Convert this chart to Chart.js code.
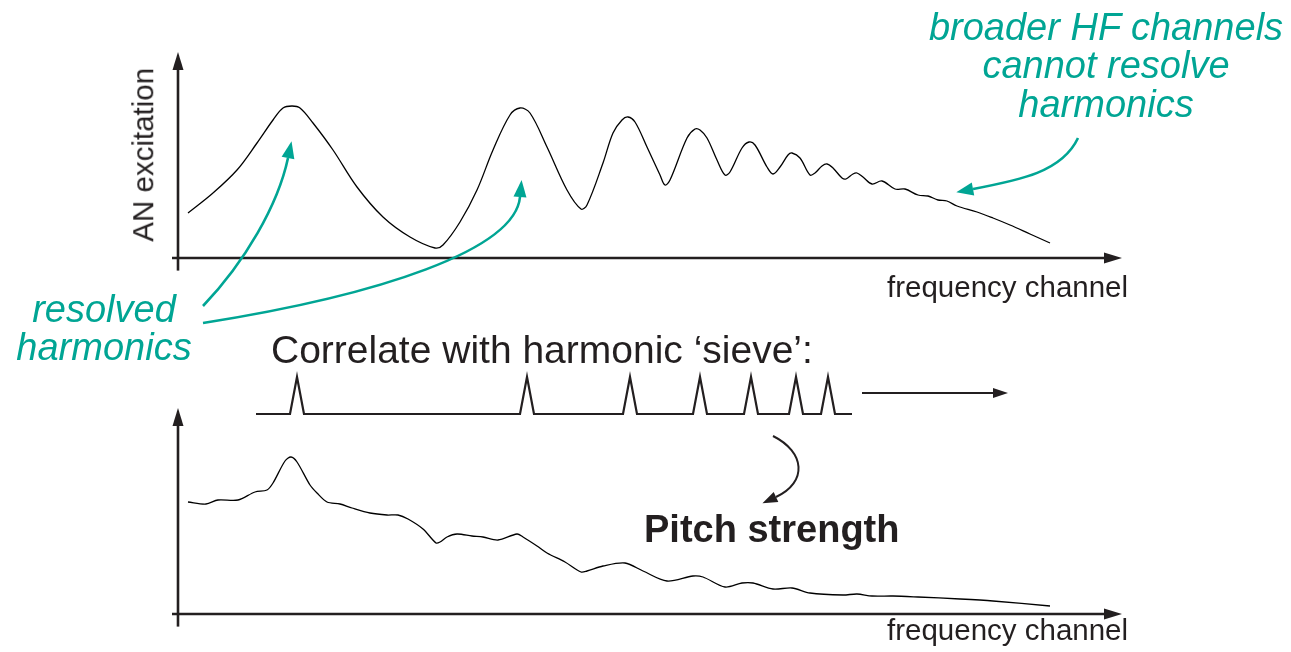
<!DOCTYPE html>
<html><head><meta charset="utf-8">
<script src="https://cdn.jsdelivr.net/npm/chart.js@4.4.1/dist/chart.umd.min.js"></script>
<style>
html,body{margin:0;padding:0;background:#fff;width:1291px;height:652px;overflow:hidden;position:relative;font-family:"Liberation Sans",Arial,Helvetica,sans-serif;color:#231f20}
#c{position:absolute;left:0;top:0}
.t{position:absolute;white-space:nowrap;line-height:1}
.teal{color:#00a594;font-style:italic;text-align:center;font-size:38px}
</style></head><body>
<canvas id="c" width="1291" height="652"></canvas>
<div class="t" style="left:42.8px;top:139.75px;width:200px;height:29.5px;font-size:29.5px;text-align:center;transform:rotate(-90deg)">AN excitation</div>
<div class="t" style="left:887px;top:272px;font-size:29.5px">frequency channel</div>
<div class="t" style="left:887px;top:615px;font-size:29.5px">frequency channel</div>
<div class="t" style="left:271px;top:330px;font-size:39px">Correlate with harmonic ‘sieve’:</div>
<div class="t" style="left:644px;top:510px;font-size:38px;font-weight:bold">Pitch strength</div>
<div class="t teal" style="left:906px;top:7.6px;width:400px;line-height:38.5px">broader HF channels<br>cannot resolve<br>harmonics</div>
<div class="t teal" style="left:-46px;top:291px;width:300px;line-height:37.5px">resolved<br>harmonics</div>
<script>
// frequency channel (x) and AN excitation (y) of the upper panel
const topX = [5,17.5,29.5,39.5,47.5,52.5,57,61,67.5,77.5,89.5,102.5,116,128.5,132.5,141,149.5,157.5,166,171,176,184.5,194.5,201.5,204.5,212.5,217.5,222,225,228.5,234.5,241,243.5,246,254.5,258.5,261,264.5,269.5,273.5,276,282,285.5,288.5,294.5,297.5,301,305,307,311,316,318.5,322,324.5,327.5,332,334,337.5,339.5,342.5,347,352,358.5,363.5,370,375,380,384.5,389.5,399.5,407.5,416,426,436];
const topY = [22.5,32.5,44,57.5,69,75,76,75,67.5,54,35.5,20.5,10.5,5,6.5,18,34,54,71.5,75,72.5,55.5,34,24.5,26.5,47.5,62.5,69,70.5,68,55.5,41.5,36.5,39,60,64.5,64,60,49,41.5,43,55,58,56.5,45.5,42,45.5,51.5,52.5,50,41.5,42.5,46,47,45,40,39.5,42,42.5,40.5,37,38.5,34.5,34.5,31.5,31,29,28.5,26,23,20,16.5,12,7.5];
// frequency channel (x) and pitch strength (y) of the lower panel
const botX = [5,14,20,30,38.5,44.5,47.5,53.5,56.5,59.5,66,69.5,74.5,81,87,96,104.5,110,115,122.5,129,131,134.5,139.5,147,152.5,160,169.5,172.5,179.5,184.5,193.5,201.5,204.5,212.5,223.5,232.5,244.5,257.5,262.5,273.5,282,287.5,297.5,307,316,332.5,339.5,347,357.5,370,391,407.5,436];
const botY = [56,55,57,57,61,62,65.5,76.5,78.5,76,64.5,60.5,56,55,53,50.5,49.5,49.5,47.5,42.5,35.5,36,38.5,40,39,38.5,37,40,38.5,34,30.5,26,21,21.5,24,25.5,21.5,16.5,19,18.5,13.5,15.5,15.5,12.5,13,10.5,9.5,10,9,9,8.5,7.5,6.5,4];
// harmonic sieve: channels of the teeth, extent of the sieve, half-width of a tooth
const sievePeaks = [59.5,174.5,226,261,286.5,309,325];
const sieveRange = [39,337];
const toothHalf = 3.5;

const pts = (xs, ys) => xs.map((x, i) => ({x: x, y: ys[i]}));
const sievePts = [{x: sieveRange[0], y: 0}];
sievePeaks.forEach(p => { sievePts.push({x: p - toothHalf, y: 0}, {x: p, y: 1}, {x: p + toothHalf, y: 0}); });
sievePts.push({x: sieveRange[1], y: 0});

const INK = '#231f20', TEAL = '#00a594';

function head(c, x, y, dx, dy, len, hw, color) {
  const L = Math.hypot(dx, dy), ux = dx / L, uy = dy / L;
  c.beginPath();
  c.moveTo(x, y);
  c.lineTo(x - ux * len - uy * hw, y - uy * len + ux * hw);
  c.lineTo(x - ux * len + uy * hw, y - uy * len - ux * hw);
  c.closePath();
  c.fillStyle = color; c.fill();
}
function curveArrow(c, p, color, lw, len, hw) {
  c.beginPath();
  c.moveTo(p[0], p[1]);
  c.bezierCurveTo(p[2], p[3], p[4], p[5], p[6], p[7]);
  c.strokeStyle = color; c.lineWidth = lw; c.lineCap = 'butt'; c.stroke();
  const dx = p[6] - p[4], dy = p[7] - p[5], L = Math.hypot(dx, dy);
  head(c, p[6] + dx / L * len, p[7] + dy / L * len, dx, dy, len, hw, color);
}
function axes(c, xs, ys, yMax) {
  const x0 = xs.getPixelForValue(0), xL = xs.getPixelForValue(-3), xR = xs.getPixelForValue(472);
  const y0 = ys.getPixelForValue(0), yT = ys.getPixelForValue(yMax), yB = ys.getPixelForValue(-6.3);
  c.strokeStyle = INK; c.lineWidth = 2.6; c.lineCap = 'butt';
  c.beginPath(); c.moveTo(xL, y0); c.lineTo(xR - 16, y0); c.stroke();
  head(c, xR, y0, 1, 0, 18, 5.5, INK);
  c.beginPath(); c.moveTo(x0, yB); c.lineTo(x0, yT + 16); c.stroke();
  head(c, x0, yT, 0, -1, 18, 5.5, INK);
}
const decor = {
  id: 'decor',
  afterDraw(chart) {
    const c = chart.ctx, s = chart.scales;
    c.save();
    axes(c, s.x, s.yTop, 103);
    axes(c, s.x, s.yBot, 103);
    // sieve sliding arrow
    const ya = s.ySieve.getPixelForValue(0.57);
    const xa = s.x.getPixelForValue(342), xb = s.x.getPixelForValue(415);
    c.strokeStyle = INK; c.lineWidth = 2;
    c.beginPath(); c.moveTo(xa, ya); c.lineTo(xb - 12, ya); c.stroke();
    head(c, xb, ya, 1, 0, 15, 5, INK);
    // annotation arrows
    curveArrow(c, [203,306, 245,262, 278,205, 288,158], TEAL, 2.6, 17, 6.5);
    curveArrow(c, [203,323, 380,295, 515,250, 520,197], TEAL, 2.6, 17, 6.5);
    curveArrow(c, [1078,138, 1062,172, 1020,180, 973,189], TEAL, 2.6, 17, 6.5);
    curveArrow(c, [773,436, 805,452, 808,482, 776,497], INK, 2, 15, 5.5);
    c.restore();
  }
};

new Chart(document.getElementById('c'), {
  type: 'line',
  data: {datasets: [
    {data: pts(topX, topY), yAxisID: 'yTop', borderColor: '#000', borderWidth: 1.3, pointRadius: 0, tension: 0.35, fill: false},
    {data: pts(botX, botY), yAxisID: 'yBot', borderColor: '#000', borderWidth: 1.3, pointRadius: 0, tension: 0.3, fill: false},
    {data: sievePts, yAxisID: 'ySieve', borderColor: INK, borderWidth: 2.2, pointRadius: 0, tension: 0, borderJoinStyle: 'miter', fill: false}
  ]},
  options: {
    responsive: false, animation: false, devicePixelRatio: 1, events: [],
    layout: {padding: {left: 178, right: 169, top: 0, bottom: 0}},
    plugins: {legend: {display: false}, tooltip: {enabled: false}},
    scales: {
      x: {type: 'linear', min: 0, max: 472, display: false},
      yTop: {type: 'linear', min: -197, max: 129, display: false},
      yBot: {type: 'linear', min: -19, max: 307, display: false},
      ySieve: {type: 'linear', min: -6.4324, max: 11.1892, display: false}
    }
  },
  plugins: [decor]
});
</script>
</body></html>
